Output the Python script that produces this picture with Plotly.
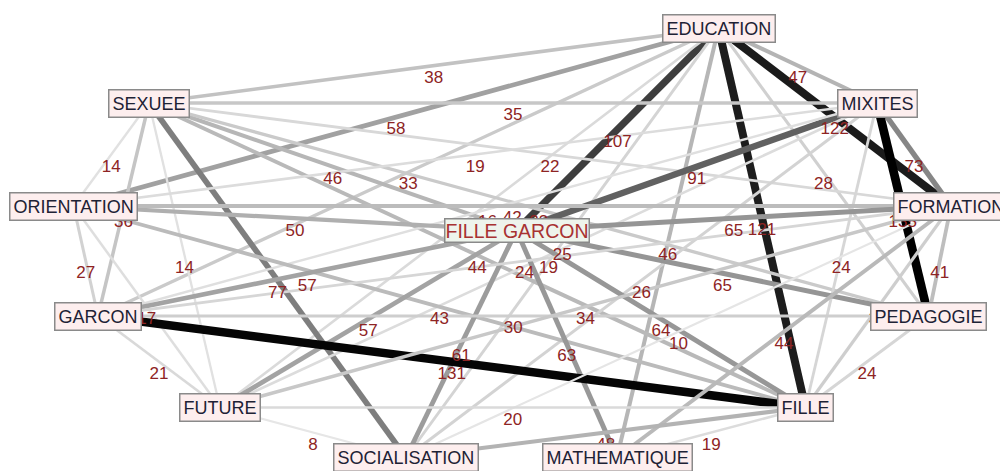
import plotly.graph_objects as go

# ---- data ----
nodes = ["EDUCATION", "SEXUEE", "MIXITES", "ORIENTATION", "FILLE GARCON", "FORMATION",
         "GARCON", "PEDAGOGIE", "FUTURE", "FILLE", "SOCIALISATION", "MATHEMATIQUE"]

edge_from = ["EDUCATION", "EDUCATION", "EDUCATION", "EDUCATION", "EDUCATION", "EDUCATION",
             "EDUCATION", "EDUCATION", "EDUCATION", "EDUCATION", "EDUCATION",
             "SEXUEE", "SEXUEE", "SEXUEE", "SEXUEE", "SEXUEE", "SEXUEE", "SEXUEE", "SEXUEE", "SEXUEE",
             "MIXITES", "MIXITES", "MIXITES", "MIXITES", "MIXITES", "MIXITES", "MIXITES", "MIXITES",
             "ORIENTATION", "ORIENTATION", "ORIENTATION", "ORIENTATION", "ORIENTATION",
             "FILLE GARCON", "FILLE GARCON", "FILLE GARCON", "FILLE GARCON", "FILLE GARCON",
             "FILLE GARCON", "FILLE GARCON",
             "GARCON", "GARCON", "GARCON", "GARCON",
             "FORMATION", "FORMATION", "FORMATION", "FORMATION", "FORMATION",
             "PEDAGOGIE", "FUTURE", "FUTURE", "FILLE", "FILLE"]
edge_to = ["SEXUEE", "ORIENTATION", "MIXITES", "FILLE GARCON", "FORMATION", "GARCON",
           "FUTURE", "SOCIALISATION", "MATHEMATIQUE", "FILLE", "PEDAGOGIE",
           "MIXITES", "ORIENTATION", "FILLE GARCON", "FORMATION", "PEDAGOGIE", "FILLE",
           "SOCIALISATION", "GARCON", "FUTURE",
           "ORIENTATION", "FILLE GARCON", "FORMATION", "PEDAGOGIE", "GARCON", "FILLE",
           "FUTURE", "SOCIALISATION",
           "FILLE GARCON", "FORMATION", "GARCON", "FILLE", "FUTURE",
           "GARCON", "FORMATION", "PEDAGOGIE", "FILLE", "FUTURE", "SOCIALISATION", "MATHEMATIQUE",
           "FILLE", "FORMATION", "PEDAGOGIE", "FUTURE",
           "PEDAGOGIE", "FUTURE", "SOCIALISATION", "MATHEMATIQUE", "FILLE",
           "FILLE", "FILLE", "SOCIALISATION", "SOCIALISATION", "MATHEMATIQUE"]
edge_weight = [38, 58, 47, 107, 122, 33, 20, 25, 46, 121, 28,
               35, 14, 46, 22, 33, 44, 77, 36, 14,
               19, 91, 73, 135, 16, 24, 19, 26,
               50, 42, 27, 43, 17,
               57, 65, 65, 64, 57, 61, 63,
               131, 24, 30, 21,
               41, 34, 10, 44, 30,
               24, 20, 8, 48, 19]

# ---- network layout (pixel-like coordinates of node centres) ----
layout_x = [718.5, 149, 877, 73.5, 516.5, 951, 98, 928.5, 220, 805.5, 406, 617]
layout_y = [28.3, 103, 103, 206, 230.5, 206, 316, 316, 407.5, 407.5, 457.5, 457.5]
pos = {n: (x, y) for n, x, y in zip(nodes, layout_x, layout_y)}

LABEL_DY = 13


def edge_color(w):
    r = min(1.0, w / 133.0)
    g = int(round(max(0.0, 235 * (1 - r ** 1.4))))
    return f"rgb({g},{g},{g})"


def edge_width(w):
    return 1.6 + w / 19.0


fig = go.Figure()

lab_x, lab_y, lab_t = [], [], []
for a, b, w in zip(edge_from, edge_to, edge_weight):
    x0, y0 = pos[a]
    x1, y1 = pos[b]
    fig.add_trace(go.Scatter(x=[x0, x1], y=[y0, y1], mode="lines",
                             line=dict(color=edge_color(w), width=edge_width(w)),
                             hoverinfo="skip", showlegend=False))
    lab_x.append((x0 + x1) / 2)
    lab_y.append((y0 + y1) / 2 + LABEL_DY)
    lab_t.append(str(w))

fig.add_trace(go.Scatter(x=lab_x, y=lab_y, text=lab_t, mode="text",
                         textfont=dict(family="Liberation Sans, Arial, sans-serif",
                                       size=17, color="#8e2424"),
                         hoverinfo="skip", showlegend=False))

for n in nodes:
    x, y = pos[n]
    central = n == "FILLE GARCON"
    fig.add_annotation(
        x=x, y=y, xref="x", yref="y", text=n, showarrow=False,
        font=dict(family="Liberation Sans, Arial, sans-serif",
                  size=19.5 if central else 18,
                  color="#a83232" if central else "#1e2235"),
        bgcolor="#eef4ec" if central else "#fdeeee",
        bordercolor="#8a8a8a", borderwidth=1.5,
        borderpad=0 if central else 3,
    )

fig.update_layout(
    width=1000, height=471, autosize=False,
    margin=dict(l=0, r=0, t=0, b=0),
    paper_bgcolor="white", plot_bgcolor="white",
    xaxis=dict(range=[0, 1000], visible=False, fixedrange=True),
    yaxis=dict(range=[471, 0], visible=False, fixedrange=True),
)

fig.write_html("out.html", config={"displayModeBar": False},
               post_script="document.body.style.margin='0';document.body.style.overflow='hidden';")
